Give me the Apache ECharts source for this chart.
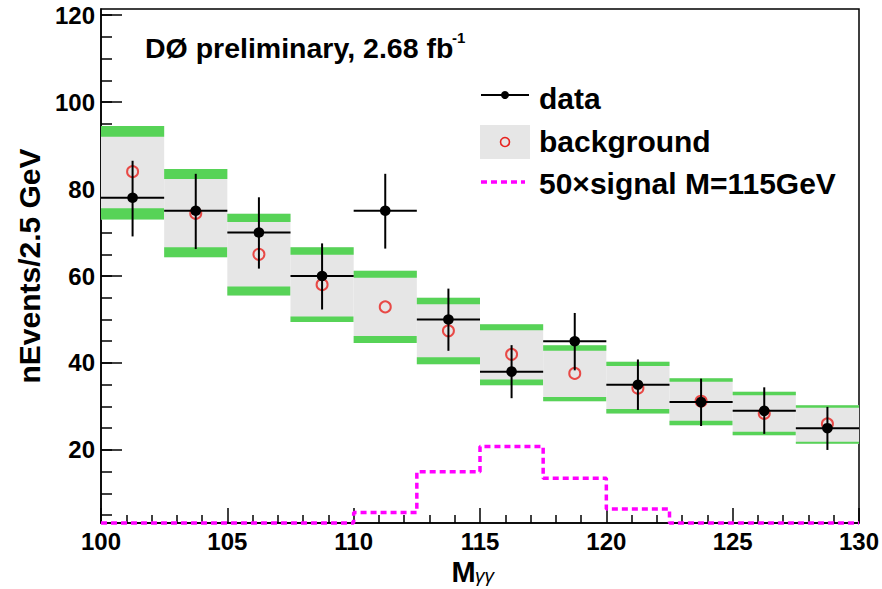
<!DOCTYPE html>
<html>
<head>
<meta charset="utf-8">
<script src="https://cdn.jsdelivr.net/npm/echarts@6/dist/echarts.min.js"></script>
<style>
html,body{margin:0;padding:0;background:#fff;}
#chart{width:882px;height:589px;}
</style>
</head>
<body>
<div id="chart"></div>
<script>
// ---- data ----
const binEdges = [100, 102.5, 105, 107.5, 110, 112.5, 115, 117.5, 120, 122.5, 125, 127.5, 130];
// background band (grey box with green edges)
const bandUpperTop = [94.5, 84.6, 74.3, 66.6, 61.2, 55.0, 48.9, 44.1, 40.3, 36.5, 33.4, 30.3];
const bandUpperBot = [92.0, 82.3, 72.4, 64.9, 59.6, 53.5, 47.5, 42.8, 39.3, 35.7, 32.6, 29.7];
const bandLowerTop = [75.6, 66.6, 57.6, 50.7, 46.2, 41.3, 36.2, 32.2, 29.4, 26.7, 24.2, 21.9];
const bandLowerBot = [73.0, 64.3, 55.5, 49.4, 44.6, 39.7, 34.9, 31.2, 28.4, 25.7, 23.4, 21.4];
// background expectation (red open circles)
const backgroundVals = [84.0, 74.4, 65.0, 58.0, 52.9, 47.4, 42.0, 37.6, 34.2, 31.2, 28.4, 26.0];
// data points with error bars
const dataVals = [78, 75, 70, 60, 75, 50, 38, 45, 35, 31, 29, 25];
const dataErrHi = [86.5, 83.5, 78.1, 67.5, 83.5, 57.1, 44.1, 51.5, 40.8, 36.4, 34.4, 29.9];
const dataErrLo = [69.1, 66.2, 61.7, 52.3, 66.3, 42.8, 31.9, 38.3, 29.2, 25.5, 23.7, 20.0];
// 50 x signal (M=115 GeV); low bins sit on the bottom of the frame
const signalVals = [3.2, 3.2, 3.2, 3.2, 5.6, 15.0, 20.8, 13.5, 6.4, 3.2, 3.2, 3.2];
// axis ticks
const xMin = 100, xMax = 130;
const yMin = 3.2, yMax = 121.4;
const yMajorTicks = [20, 40, 60, 80, 100, 120];
const yMinorTicks = [5, 10, 15, 20, 25, 30, 35, 40, 45, 50, 55, 60, 65, 70, 75, 80, 85, 90, 95, 100, 105, 110, 115, 120];

// ---- build ----
const FONT = '"Liberation Sans", Arial, Helvetica, sans-serif';
const nBins = dataVals.length;
const bandData = [], dataPts = [], bgPts = [];
for (let i = 0; i < nBins; i++) {
  const lo = binEdges[i], hi = binEdges[i + 1], mid = (lo + hi) / 2;
  bandData.push([lo, hi, bandLowerBot[i], bandLowerTop[i], bandUpperBot[i], bandUpperTop[i]]);
  dataPts.push([lo, hi, mid, dataVals[i], dataErrLo[i], dataErrHi[i]]);
  bgPts.push([mid, backgroundVals[i]]);
}
const signalData = binEdges.map((x, i) => [x, signalVals[Math.min(i, nBins - 1)]]);

const GREY = '#e6e6e6', GREEN = '#57d357', RED = '#e8221e', MAGENTA = '#ff00ff';

const chart = echarts.init(document.getElementById('chart'), null, {renderer: 'svg'});
chart.setOption({
  animation: false,
  backgroundColor: '#fff',
  grid: {left: 101, right: 23, top: 9, bottom: 66, containLabel: false, outerBoundsMode: 'none',
         show: true, borderColor: '#000', borderWidth: 1.5, backgroundColor: 'transparent'},
  xAxis: {
    type: 'value', min: xMin, max: xMax, interval: 5,
    name: 'M', nameLocation: 'middle', nameGap: 25,
    nameTextStyle: {fontFamily: FONT, fontSize: 29, fontWeight: 'bold', color: '#000', padding: [0, 33, 0, 0]},
    axisLine: {lineStyle: {color: '#000', width: 1.5}},
    axisTick: {inside: true, length: 15, lineStyle: {color: '#000', width: 1.5}},
    minorTick: {show: true, splitNumber: 5, length: 8, lineStyle: {color: '#000', width: 1.5}},
    axisLabel: {fontFamily: FONT, fontSize: 24, fontWeight: 'bold', color: '#000', margin: 6},
    splitLine: {show: false}
  },
  yAxis: [{
    type: 'value', min: yMin, max: yMax,
    name: 'nEvents/2.5 GeV', nameLocation: 'middle', nameGap: 54,
    nameTextStyle: {fontFamily: FONT, fontSize: 30, fontWeight: 'bold', color: '#000'},
    axisLine: {lineStyle: {color: '#000', width: 1.5}},
    axisTick: {inside: true, length: 21, customValues: yMajorTicks, lineStyle: {color: '#000', width: 1.5}},
    axisLabel: {fontFamily: FONT, fontSize: 24, fontWeight: 'bold', color: '#000', margin: 6, customValues: yMajorTicks},
    splitLine: {show: false}
  }, {
    type: 'value', min: yMin, max: yMax, position: 'left', offset: 0,
    axisLine: {show: false},
    axisTick: {show: true, inside: true, length: 11, customValues: yMinorTicks, lineStyle: {color: '#000', width: 1.5}},
    axisLabel: {show: false},
    splitLine: {show: false}
  }],
  series: [{
    name: 'background band', type: 'custom', z: 1,
    data: bandData,
    encode: {x: [0, 1], y: [2, 3, 4, 5]},
    renderItem: function (params, api) {
      const x0 = api.value(0), x1 = api.value(1);
      const r = (ya, yb, fill) => {
        const a = api.coord([x0, yb]), b = api.coord([x1, ya]);
        return {type: 'rect', shape: {x: a[0], y: a[1], width: b[0] - a[0], height: b[1] - a[1]}, style: {fill: fill}};
      };
      return {type: 'group', children: [
        r(api.value(2), api.value(5), GREY),
        r(api.value(4), api.value(5), GREEN),
        r(api.value(2), api.value(3), GREEN)
      ]};
    }
  }, {
    name: '50×signal M=115GeV', type: 'line', step: 'end', z: 2,
    data: signalData, symbol: 'none', clip: false,
    lineStyle: {color: MAGENTA, width: 3.5, type: [6, 4]}
  }, {
    name: 'background', type: 'scatter', z: 3,
    data: bgPts, symbol: 'circle', symbolSize: 11,
    itemStyle: {color: 'rgba(0,0,0,0)', borderColor: RED, borderWidth: 2}
  }, {
    name: 'data', type: 'custom', z: 4,
    data: dataPts,
    encode: {x: [0, 1, 2], y: [3, 4, 5]},
    renderItem: function (params, api) {
      const lo = api.coord([api.value(0), api.value(3)]);
      const hi = api.coord([api.value(1), api.value(3)]);
      const c = api.coord([api.value(2), api.value(3)]);
      const eLo = api.coord([api.value(2), api.value(4)]);
      const eHi = api.coord([api.value(2), api.value(5)]);
      const ls = {stroke: '#000', lineWidth: 2};
      return {type: 'group', children: [
        {type: 'line', shape: {x1: lo[0], y1: lo[1], x2: hi[0], y2: hi[1]}, style: ls},
        {type: 'line', shape: {x1: c[0], y1: eLo[1], x2: c[0], y2: eHi[1]}, style: ls},
        {type: 'circle', shape: {cx: c[0], cy: c[1], r: 5.3}, style: {fill: '#000'}}
      ]};
    }
  }],
  graphic: [
    {type: 'text', left: 145, top: 33, style: {text: 'DØ preliminary, 2.68 fb', font: 'bold 28.5px ' + FONT, fill: '#000'}},
    {type: 'text', left: 452, top: 30, style: {text: '-1', font: 'bold 15px ' + FONT, fill: '#000'}},
    // x-axis title subscript
    {type: 'text', left: 475, top: 566, style: {text: 'γγ', font: 'italic 19px ' + FONT, fill: '#000'}},
    // legend
    {type: 'line', shape: {x1: 481, y1: 95, x2: 529, y2: 95}, style: {stroke: '#000', lineWidth: 2}},
    {type: 'circle', shape: {cx: 505, cy: 95, r: 4}, style: {fill: '#000'}},
    {type: 'text', x: 539, y: 98, style: {text: 'data', font: 'bold 30px ' + FONT, fill: '#000', verticalAlign: 'middle'}},
    {type: 'rect', shape: {x: 480, y: 125, width: 50, height: 34}, style: {fill: GREY}},
    {type: 'circle', shape: {cx: 505, cy: 142, r: 4.5}, style: {fill: 'none', stroke: RED, lineWidth: 1.6}},
    {type: 'text', x: 539, y: 141, style: {text: 'background', font: 'bold 30px ' + FONT, fill: '#000', verticalAlign: 'middle'}},
    {type: 'line', shape: {x1: 481, y1: 182, x2: 525, y2: 182}, style: {stroke: MAGENTA, lineWidth: 3.5, lineDash: [6, 4]}},
    {type: 'text', x: 539, y: 183, style: {text: '50×signal M=115GeV', font: 'bold 30px ' + FONT, fill: '#000', verticalAlign: 'middle'}}
  ]
});
</script>
</body>
</html>
